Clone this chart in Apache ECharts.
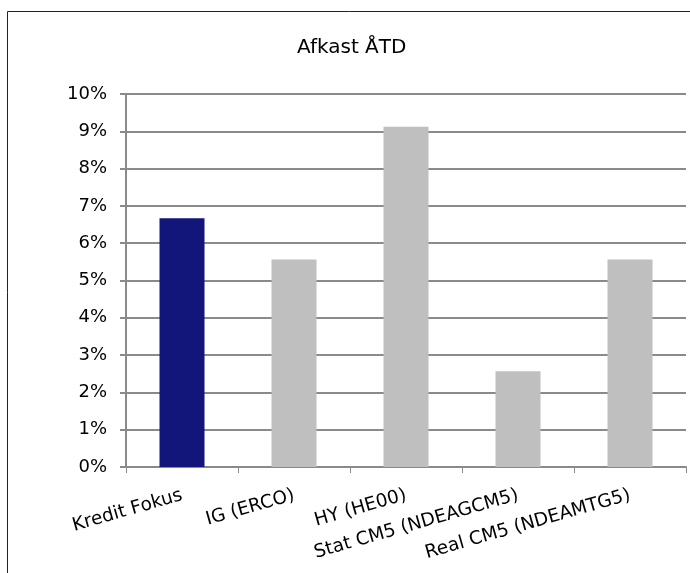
<!DOCTYPE html>
<html>
<head>
<meta charset="utf-8">
<script src="https://cdn.jsdelivr.net/npm/echarts@6/dist/echarts.min.js"></script>
<style>html,body{margin:0;padding:0;background:#fff;}#c{width:690px;height:573px;}</style>
</head>
<body>
<div id="c"></div>
<script>
const categories = ['Kredit Fokus', 'IG (ERCO)', 'HY (HE00)', 'Stat CM5 (NDEAGCM5)', 'Real CM5 (NDEAMTG5)'];
const values = [6.67, 5.56, 9.12, 2.57, 5.56];
const barColors = ['#12157a', '#bfbfbf', '#bfbfbf', '#bfbfbf', '#bfbfbf'];
const titleText = 'Afkast ÅTD';

const font = 'DejaVu Sans, Verdana, sans-serif';
const chart = echarts.init(document.getElementById('c'), null, {renderer: 'canvas'});
chart.setOption({
  animation: false,
  backgroundColor: '#fff',
  title: {
    text: titleText,
    left: 292,
    top: 33,
    textStyle: {fontFamily: font, fontSize: 20, fontWeight: 'normal', color: '#000'}
  },
  graphic: [{
    type: 'rect',
    shape: {x: 7.5, y: 11.5, width: 800, height: 800},
    style: {fill: null, stroke: '#222', lineWidth: 1},
    silent: true
  }],
  grid: {left: 126, right: 4, top: 94, bottom: 106, containLabel: false},
  xAxis: {
    type: 'category',
    data: categories,
    axisLine: {lineStyle: {color: '#8a8a8a', width: 2}},
    axisTick: {show: true, length: 6, lineStyle: {color: '#8a8a8a', width: 1}},
    axisLabel: {rotate: 16, margin: 28, interval: 0, fontFamily: font, fontSize: 18.5, color: '#000'}
  },
  yAxis: {
    type: 'value',
    min: 0, max: 10, interval: 1,
    axisLine: {show: true, lineStyle: {color: '#8a8a8a', width: 2}},
    axisTick: {show: true, length: 6, lineStyle: {color: '#8a8a8a', width: 2}},
    axisLabel: {formatter: '{value}%', margin: 19, fontFamily: font, fontSize: 18, color: '#000'},
    splitLine: {show: true, lineStyle: {color: '#8a8a8a', width: 2}}
  },
  series: [{
    type: 'bar',
    barWidth: 45,
    data: values.map((v, i) => ({value: v, itemStyle: {color: barColors[i]}}))
  }]
});
</script>
</body>
</html>
